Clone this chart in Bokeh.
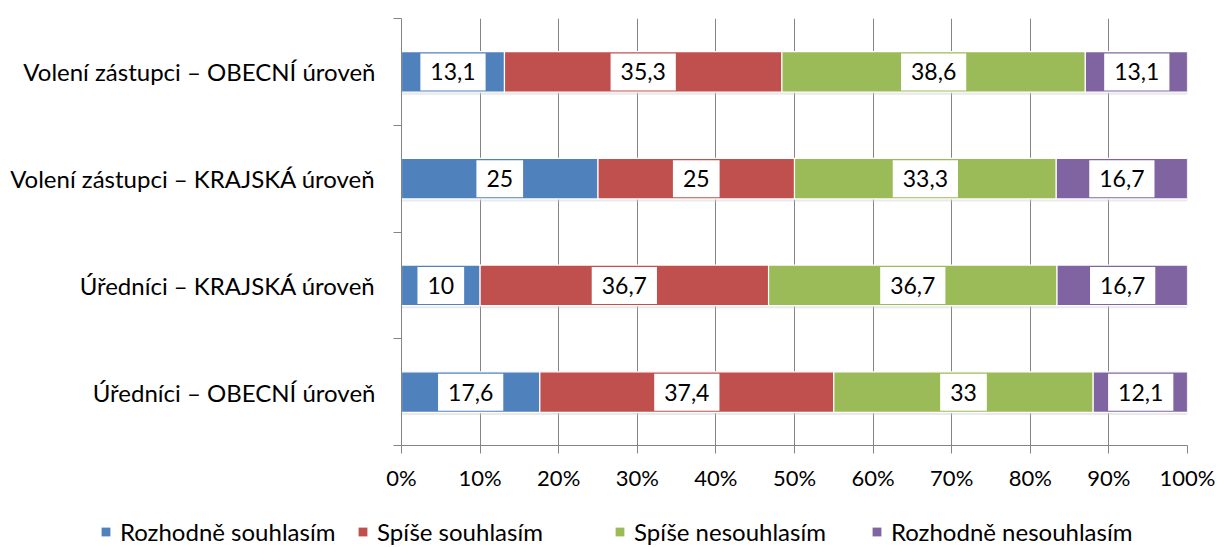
from bokeh.plotting import figure
from bokeh.models import ColumnDataSource, FixedTicker, Legend, LegendItem, Range1d
from bokeh.core.properties import value
from bokeh.embed import file_html
from bokeh.resources import INLINE

# ---- data (top to bottom as shown) ----
categories = [
    "Volení zástupci – OBECNÍ úroveň",
    "Volení zástupci – KRAJSKÁ úroveň",
    "Úředníci – KRAJSKÁ úroveň",
    "Úředníci – OBECNÍ úroveň",
]
series_names = ["Rozhodně souhlasím", "Spíše souhlasím", "Spíše nesouhlasím", "Rozhodně nesouhlasím"]
rozhodne_souhlasim = [13.1, 25, 10, 17.6]
spise_souhlasim = [35.3, 25, 36.7, 37.4]
spise_nesouhlasim = [38.6, 33.3, 36.7, 33]
rozhodne_nesouhlasim = [13.1, 16.7, 16.7, 12.1]
x_ticks = [0, 10, 20, 30, 40, 50, 60, 70, 80, 90, 100]

colors = ["#4F81BD", "#C0504D", "#9BBB59", "#8064A2"]
FONT = "Lato"

series = [rozhodne_souhlasim, spise_souhlasim, spise_nesouhlasim, rozhodne_nesouhlasim]
n = len(categories)
ypos = [n - 0.5 - i for i in range(n)]

p = figure(width=1220, height=517, output_backend="svg", toolbar_location=None,
           x_range=Range1d(0, 100), y_range=Range1d(0, n),
           min_border_left=401, min_border_right=33, min_border_top=18, min_border_bottom=72)
p.outline_line_color = None
p.background_fill_color = "white"
p.border_fill_color = "white"

# grid
p.ygrid.visible = False
p.xgrid.ticker = FixedTicker(ticks=x_ticks)
p.xgrid.grid_line_color = "#858585"
p.xgrid.grid_line_width = 1

bar_h = 0.38

# soft shadows
starts = [0.0] * n
for k, vals in enumerate(series):
    ends = [s + v for s, v in zip(starts, vals)]
    src = ColumnDataSource(dict(y=ypos, y_sh=[y - 0.025 for y in ypos], left=starts, right=ends))
    p.hbar(y="y_sh", left="left", right="right", height=bar_h, source=src,
           fill_color="#d0d0d0", fill_alpha=0.45, line_color=None)
    starts = ends

starts = [0.0] * n
label_x, label_y, label_t = [], [], []
for k, vals in enumerate(series):
    ends = [s + v for s, v in zip(starts, vals)]
    src = ColumnDataSource(dict(y=ypos, left=starts, right=ends))
    p.hbar(y="y", left="left", right="right", height=bar_h, source=src,
           fill_color=colors[k], line_color="white", line_width=1.2)
    for s, v, y in zip(starts, vals, ypos):
        label_x.append(s + v / 2)
        label_y.append(y)
        label_t.append(f"{v:g}".replace(".", ","))
    starts = ends

lsrc = ColumnDataSource(dict(x=label_x, y=label_y, t=label_t))
p.text(x="x", y="y", text="t", source=lsrc, text_align="center", text_baseline="middle",
       text_font=value(FONT), text_font_size="23px", text_color="#000000",
       background_fill_color="white", padding=(10, 10))

# x axis
p.xaxis.ticker = FixedTicker(ticks=x_ticks)
p.xaxis.major_label_overrides = {t: f"{t}%" for t in x_ticks}
p.xaxis.axis_line_color = "#858585"
p.xaxis.major_tick_line_color = "#858585"
p.xaxis.major_tick_out = 8
p.xaxis.major_tick_in = 0
p.xaxis.minor_tick_line_color = None
p.xaxis.major_label_text_font = FONT
p.xaxis.major_label_text_font_size = "22px"
p.xaxis.major_label_text_color = "#000000"
p.xaxis.major_label_standoff = 10

# y axis: labels at centers, ticks at boundaries
p.yaxis.ticker = FixedTicker(ticks=ypos, minor_ticks=list(range(n + 1)))
p.yaxis.major_label_overrides = {y: c for y, c in zip(ypos, categories)}
p.yaxis.axis_line_color = "#858585"
p.yaxis.major_tick_line_color = None
p.yaxis.major_tick_out = 0
p.yaxis.major_tick_in = 0
p.yaxis.minor_tick_line_color = "#858585"
p.yaxis.minor_tick_out = 8
p.yaxis.minor_tick_in = 0
p.yaxis.major_label_text_font = FONT
p.yaxis.major_label_text_font_size = "24px"
p.yaxis.major_label_text_color = "#000000"
p.yaxis.major_label_standoff = 18

# legend strip below (separate root so its frame spans the full width)
lg = figure(width=1220, height=30, output_backend="svg", toolbar_location=None,
            x_range=Range1d(0, 1), y_range=Range1d(0, 1),
            min_border_left=0, min_border_right=0, min_border_top=0, min_border_bottom=0)
lg.axis.visible = False
lg.grid.visible = False
lg.outline_line_color = None
leg_renderers = []
for k in range(len(series_names)):
    empty = ColumnDataSource(dict(y=[0.5], left=[0], right=[0]))
    leg_renderers.append(lg.hbar(y="y", left="left", right="right", height=0.5, source=empty,
                                 fill_color=colors[k], line_color=None))
legend = Legend(items=[LegendItem(label=nm, renderers=[r]) for nm, r in zip(series_names, leg_renderers)],
                orientation="horizontal", location=(100, 1),
                padding=0, margin=0, spacing=0, label_standoff=9, label_width=237,
                glyph_width=11, glyph_height=11,
                label_text_font=FONT, label_text_font_size="24px", label_text_color="#000000",
                border_line_color=None, background_fill_alpha=0)
lg.add_layout(legend, "center")

open("out.html", "w").write(file_html([p, lg], INLINE))
